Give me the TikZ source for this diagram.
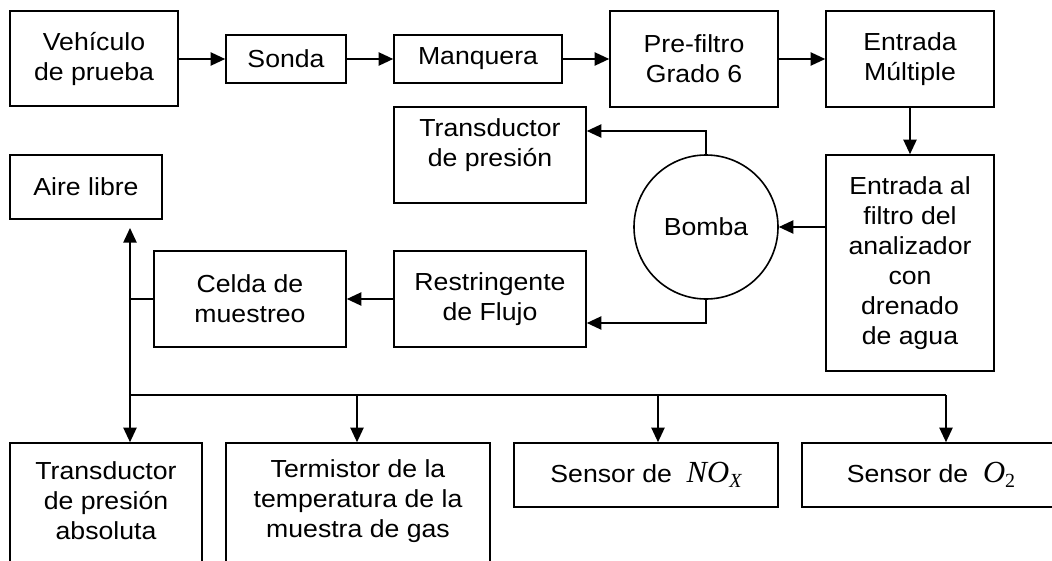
\documentclass[tikz,border=0pt]{standalone}
\usepackage{fontspec}
\setmainfont{Liberation Sans}[FakeStretch=1.08]
\newfontfamily\tms{Liberation Serif}
\usetikzlibrary{arrows.meta}
\newcommand{\noxtxt}{{\tms\itshape\fontsize{23}{23}\selectfont NO\raisebox{-0.4ex}{\fontsize{15}{15}\selectfont X}}}
\newcommand{\ootxt}{{\tms\fontsize{23}{23}\selectfont\textit{O}\raisebox{-0.4ex}{\fontsize{15}{15}\selectfont 2}}}
\begin{document}
\begin{tikzpicture}[x=0.75pt,y=-0.75pt,
  every node/.style={font=\fontsize{18.5}{22.5}\selectfont, align=center},
  box/.style={draw, line width=1.2pt, rectangle, inner sep=0pt},
  conn/.style={line width=1.2pt},
  arr/.style={line width=1.2pt, -{Triangle[length=11pt,width=10pt]}}]
\useasboundingbox (0,0) rectangle (1052,560);
\clip (0,0) rectangle (1052,560);
% top row
\node[box, minimum width=126pt, minimum height=71.25pt] (veh) at (94,58.5) {Vehículo\\de prueba};
\node[box, minimum width=90pt, minimum height=36pt] (sonda) at (286,59) {Sonda};
\node[box, minimum width=126pt, minimum height=36pt] (manq) at (478,59) {Manquera};
\node[box, minimum width=126pt, minimum height=72pt] (pref) at (694,59) {Pre-filtro\\Grado 6};
\node[box, minimum width=126pt, minimum height=72pt] (entm) at (910,59) {Entrada\\Múltiple};
% middle
\node[box, minimum width=126pt, minimum height=162pt] (entf) at (910,263) {Entrada al\\filtro del\\analizador\\con\\drenado\\de agua};
\node[draw, line width=1.2pt, circle, minimum size=108pt, inner sep=0pt] (bomba) at (706,227) {Bomba};
\node[box, minimum width=144pt, minimum height=72pt] (tpres) at (490,155) {Transductor\\de presión\\[-4pt]};
\node[box, minimum width=114pt, minimum height=48pt] (aire) at (86,187) {Aire libre};
\node[box, minimum width=144pt, minimum height=72pt] (celda) at (250,299) {Celda de\\muestreo};
\node[box, minimum width=144pt, minimum height=72pt] (restr) at (490,299) {Restringente\\de Flujo};
% bottom row
\node[box, minimum width=144pt, minimum height=102.75pt] (tabs) at (106,511.5) {};
\node (tabstxt) at (106,501) {Transductor\\de presión\\absoluta};
\node[box, minimum width=198pt, minimum height=102.75pt] (term) at (358,511.5) {};
\node (termtxt) at (358,501) {Termistor de la\\temperatura de la\\muestra de gas};
\node[box, minimum width=198pt, minimum height=48pt] (nox) at (646,475) {Sensor de \ \noxtxt};
\node[box, minimum width=193.5pt, minimum height=48pt] (oo) at (931,475) {Sensor de \ \ootxt};
% coordinates
\coordinate (ptop) at (706,131);
\coordinate (pbot) at (706,323);
\coordinate (j) at (130,395);
\coordinate (airtip) at (130,228);
\coordinate (bend) at (946,395);
\coordinate (jterm) at (357,395);
\coordinate (jnox) at (658,395);
% connectors
\draw[arr] (veh.east |- sonda.west) -- (sonda.west);
\draw[arr] (sonda.east) -- (manq.west);
\draw[arr] (manq.east) -- (manq.east -| pref.west);
\draw[arr] (pref.east) -- (entm.west);
\draw[arr] (entm.south) -- (entf.north);
\draw[arr] (bomba.east -| entf.west) -- (bomba.east);
\draw[arr] (bomba.north) -- (ptop) -- (ptop -| tpres.east);
\draw[arr] (bomba.south) -- (pbot) -- (pbot -| restr.east);
\draw[arr] (restr.west) -- (celda.east);
\draw[conn] (celda.west) -- (celda.west -| j);
\draw[arr] (j) -- (airtip);
\draw[conn] (j) -- (bend);
\draw[arr] (j) -- (j |- tabs.north);
\draw[arr] (jterm) -- (jterm |- term.north);
\draw[arr] (jnox) -- (jnox |- nox.north);
\draw[arr] (bend) -- (bend |- oo.north);
\end{tikzpicture}
\end{document}
